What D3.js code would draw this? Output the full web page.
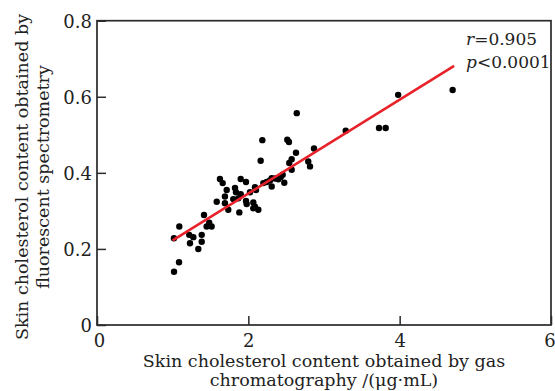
<!DOCTYPE html>
<html><head><meta charset="utf-8">
<script src="https://cdn.jsdelivr.net/npm/d3@7"></script>
<style>
html,body{margin:0;padding:0;background:#fff;}
text{font-family:"DejaVu Serif",serif;fill:#222;}
</style></head>
<body><svg id="c" width="555" height="391"></svg>
<script>
// data
const gcValues = [2.64,2.185,2.515,2.537,2.163,2.868,2.63,2.573,2.541,2.792,2.815,2.573,2.454,2.428,2.396,2.352,2.309,2.475,2.286,2.243,2.198,2.309,1.899,1.969,2.088,2.101,1.625,1.661,1.824,1.837,1.714,2.022,1.691,1.582,1.801,1.867,1.899,1.969,1.978,2.066,2.088,2.132,2.066,1.691,1.881,1.414,1.735,1.483,1.515,1.449,1.088,1.017,1.219,1.273,1.384,1.384,1.229,1.339,1.084,1.018,3.98,4.70,3.727,3.815,3.287];
const fsValues = [0.557,0.486,0.487,0.481,0.432,0.464,0.453,0.436,0.426,0.430,0.417,0.408,0.395,0.389,0.383,0.385,0.386,0.374,0.380,0.376,0.373,0.364,0.384,0.376,0.362,0.355,0.384,0.373,0.360,0.349,0.355,0.349,0.338,0.324,0.331,0.333,0.344,0.326,0.318,0.322,0.311,0.303,0.307,0.320,0.296,0.289,0.303,0.269,0.259,0.259,0.259,0.228,0.237,0.231,0.237,0.219,0.215,0.200,0.165,0.140,0.605,0.618,0.518,0.518,0.511];
const fitRange = [1.0, 4.72];
const fitSlope = 0.1232, fitIntercept = 0.0995;
const xTicks = [0,2,4,6];
const yTicks = [0,0.2,0.4,0.6,0.8];
const xTitle = ["Skin cholesterol content obtained by gas","chromatography /(\u03bcg\u00b7mL)"];
const yTitle = ["Skin cholesterol content obtained by","fluorescent spectrometry"];

const svg = d3.select("#c");
const x = d3.scaleLinear().domain([0,6]).range([97,551]);
const y = d3.scaleLinear().domain([0,0.8]).range([325,20.7]);
const axisColor = "#2a2a2a";

// frame
svg.append("rect").attr("x",x(0)).attr("y",y(0.8)).attr("width",x(6)-x(0)).attr("height",y(0)-y(0.8))
  .attr("fill","none").attr("stroke",axisColor).attr("stroke-width",1.7);

const xa = svg.append("g").attr("transform",`translate(0,${y(0)})`)
  .call(d3.axisTop(x).tickValues(xTicks).tickSize(9).tickFormat(d3.format("d")));
xa.select(".domain").remove();
xa.selectAll("line").attr("stroke",axisColor).attr("stroke-width",1.5);
xa.selectAll("text").attr("y",21.5).attr("dy",0).style("font-size","18px").attr("font-family","DejaVu Serif").attr("fill","#222")
  .attr("x",d=>d===6?-1.5:(d===0?2:0));

const ya = svg.append("g").attr("transform",`translate(${x(0)},0)`)
  .call(d3.axisRight(y).tickValues(yTicks).tickSize(9).tickFormat(d=>d===0?"0":d3.format(".1f")(d)));
ya.select(".domain").remove();
ya.selectAll("line").attr("stroke",axisColor).attr("stroke-width",1.5);
ya.selectAll("text").attr("x",-5).attr("text-anchor","end").attr("dy","0.35em").style("font-size","18px").attr("font-family","DejaVu Serif").attr("fill","#222");

// points
svg.append("g").selectAll("circle").data(gcValues.map((v,i)=>[v,fsValues[i]])).join("circle")
  .attr("cx",d=>x(d[0])).attr("cy",d=>y(d[1])).attr("r",3.2).attr("fill","#000");

// fit line
svg.append("line")
  .attr("x1",x(fitRange[0])).attr("y1",y(fitIntercept+fitSlope*fitRange[0]))
  .attr("x2",x(fitRange[1])).attr("y2",y(fitIntercept+fitSlope*fitRange[1]))
  .attr("stroke","#e8222a").attr("stroke-width",2.6);

// annotation
const ann = svg.append("g").style("font-size","17px");
const t1 = ann.append("text").attr("x",466).attr("y",45);
t1.append("tspan").attr("font-style","italic").text("r");
t1.append("tspan").text("=0.905");
const t2 = ann.append("text").attr("x",466).attr("y",68);
t2.append("tspan").attr("font-style","italic").text("p");
t2.append("tspan").text("<0.0001");

// axis titles
const xt = svg.append("text").attr("text-anchor","middle").style("font-size","17.5px");
xt.append("tspan").attr("x",324).attr("y",366.5).text(xTitle[0]);
xt.append("tspan").attr("x",324).attr("y",386).text(xTitle[1]);

const yt = svg.append("g").attr("transform","translate(0,177) rotate(-90)");
yt.append("text").attr("text-anchor","middle").attr("x",0).attr("y",28).style("font-size","17.5px").text(yTitle[0]);
yt.append("text").attr("text-anchor","middle").attr("x",0).attr("y",49).style("font-size","17.5px").text(yTitle[1]);
</script></body></html>
